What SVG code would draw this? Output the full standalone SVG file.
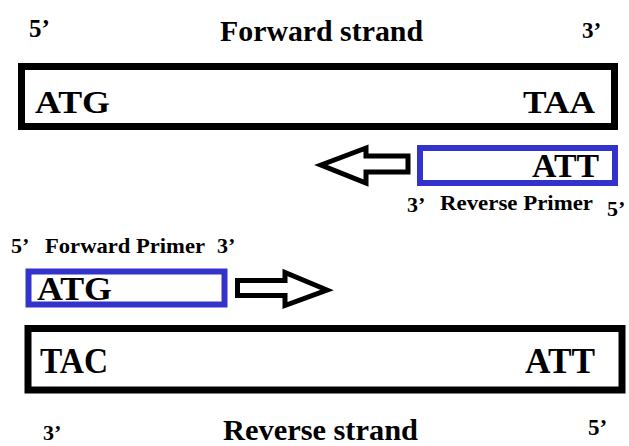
<svg xmlns="http://www.w3.org/2000/svg" width="629" height="446" viewBox="0 0 629 446">
<style>
text{font-family:"Liberation Serif","Times New Roman",serif;font-weight:bold;fill:#000}
.strand{fill:#fff;stroke:#000;stroke-width:7}
.primer{fill:#fff;stroke:#3333cc;stroke-width:6}
.arrow{fill:#fff;stroke:#000;stroke-width:5;stroke-linejoin:miter}
.lab{font-size:22px}
</style>
<rect width="629" height="446" fill="#fff"/>
<text x="29" y="37" font-size="25">5’</text>
<text x="220" y="41" font-size="30" textLength="203" lengthAdjust="spacingAndGlyphs">Forward strand</text>
<text x="582" y="38" font-size="23">3’</text>
<g id="forward-strand">
<rect class="strand" x="21.5" y="66.5" width="593" height="60"/>
<text x="35" y="113" font-size="31" textLength="75" lengthAdjust="spacingAndGlyphs">ATG</text>
<text x="523" y="113" font-size="31" textLength="72" lengthAdjust="spacingAndGlyphs">TAA</text>
</g>
<g id="reverse-primer">
<rect class="primer" x="420" y="148" width="195" height="35"/>
<text x="532" y="177" font-size="33" textLength="67" lengthAdjust="spacingAndGlyphs">ATT</text>
<text class="lab" x="407" y="212">3’</text>
<text class="lab" x="440" y="210" textLength="153" lengthAdjust="spacingAndGlyphs">Reverse Primer</text>
<text class="lab" x="607" y="216">5’</text>
</g>
<g id="forward-primer">
<text class="lab" x="11" y="253">5’</text>
<text class="lab" x="45" y="253" textLength="160" lengthAdjust="spacingAndGlyphs">Forward Primer</text>
<text class="lab" x="217" y="253">3’</text>
<rect class="primer" x="28.5" y="271.5" width="196" height="33"/>
<text x="37" y="300" font-size="33" textLength="75" lengthAdjust="spacingAndGlyphs">ATG</text>
</g>
<g id="connectors">
<path class="arrow" d="M408,156 L366,156 L366,148 L321,165 L366,183 L366,172 L408,172 Z"/>
<path class="arrow" d="M237.5,280.5 L285,280.5 L285,272.5 L327,290 L285,305.5 L285,295.5 L237.5,295.5 Z"/>
</g>
<g id="reverse-strand">
<rect class="strand" x="28" y="328.5" width="594" height="61.5"/>
<text x="40" y="373" font-size="36" textLength="68" lengthAdjust="spacingAndGlyphs">TAC</text>
<text x="525" y="373" font-size="36" textLength="70" lengthAdjust="spacingAndGlyphs">ATT</text>
</g>
<text x="43" y="440" font-size="22">3’</text>
<text x="223" y="440" font-size="30" textLength="195" lengthAdjust="spacingAndGlyphs">Reverse strand</text>
<text x="588" y="435" font-size="23">5’</text>
</svg>
